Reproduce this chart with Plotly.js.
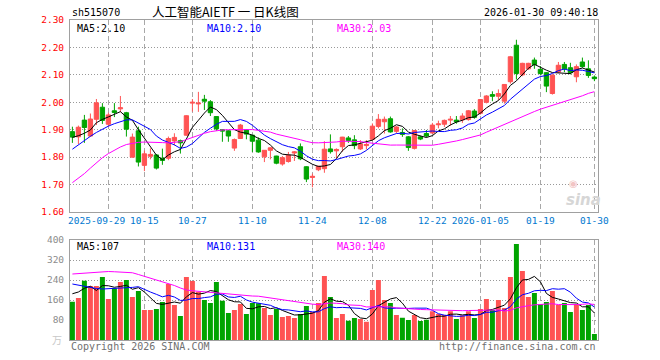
<!DOCTYPE html>
<html>
<head>
<meta charset="utf-8">
<script src="https://cdn.plot.ly/plotly-3.0.1.min.js"></script>
<style>html,body{margin:0;padding:0;background:#fff}#chart{width:660px;height:360px}</style>
</head>
<body>
<div id="chart"></div>
<script>
// ---- data ----
const dates = [
'2025-09-19','2025-09-22','2025-09-23','2025-09-24','2025-09-25','2025-09-26','2025-09-29','2025-09-30',
'2025-10-09','2025-10-10','2025-10-13','2025-10-14','2025-10-15','2025-10-16','2025-10-17','2025-10-20','2025-10-21','2025-10-22','2025-10-23','2025-10-24','2025-10-27','2025-10-28','2025-10-29','2025-10-30','2025-10-31',
'2025-11-03','2025-11-04','2025-11-05','2025-11-06','2025-11-07','2025-11-10','2025-11-11','2025-11-12','2025-11-13','2025-11-14','2025-11-17','2025-11-18','2025-11-19','2025-11-20','2025-11-21','2025-11-24','2025-11-25','2025-11-26','2025-11-27','2025-11-28',
'2025-12-01','2025-12-02','2025-12-03','2025-12-04','2025-12-05','2025-12-08','2025-12-09','2025-12-10','2025-12-11','2025-12-12','2025-12-15','2025-12-16','2025-12-17','2025-12-18','2025-12-19','2025-12-22','2025-12-23','2025-12-24','2025-12-25','2025-12-26','2025-12-29','2025-12-30','2025-12-31',
'2026-01-05','2026-01-06','2026-01-07','2026-01-08','2026-01-09','2026-01-12','2026-01-13','2026-01-14','2026-01-15','2026-01-16','2026-01-19','2026-01-20','2026-01-21','2026-01-22','2026-01-23','2026-01-26','2026-01-27','2026-01-28','2026-01-29','2026-01-30'];

const openP = [1.893,1.874,1.935,1.877,1.938,1.982,1.920,1.969,1.976,1.962,
1.800,1.896,1.770,1.803,1.808,1.796,1.796,1.859,1.860,1.880,
1.997,1.994,2.011,2.002,1.948,1.900,1.896,1.833,1.868,1.899,
1.880,1.862,1.801,1.825,1.804,1.775,1.784,1.815,1.838,1.765,
1.726,1.754,1.758,1.830,1.823,1.838,1.870,1.863,1.830,1.842,
1.865,1.912,1.929,1.940,1.894,1.890,1.874,1.832,1.874,1.886,
1.888,1.918,1.920,1.935,1.935,1.936,1.937,1.968,1.960,2.000,
2.028,2.022,2.004,2.075,2.208,2.100,2.122,2.154,2.120,2.108,
2.032,2.110,2.138,2.126,2.093,2.147,2.122,2.092];

const highP = [1.911,1.915,1.954,1.959,2.012,1.997,1.962,1.997,2.023,1.965,
1.886,1.911,1.824,1.832,1.811,1.831,1.875,1.887,1.864,1.953,
2.012,2.038,2.027,2.008,1.950,1.902,1.899,1.868,1.921,1.902,
1.880,1.872,1.826,1.836,1.805,1.804,1.819,1.822,1.850,1.767,
1.740,1.769,1.858,1.883,1.832,1.874,1.877,1.880,1.862,1.862,
1.923,1.957,1.948,1.948,1.913,1.905,1.877,1.899,1.878,1.899,
1.925,1.933,1.937,1.950,1.950,1.960,1.972,1.975,2.012,2.026,
2.040,2.047,2.066,2.169,2.228,2.144,2.144,2.163,2.132,2.110,
2.102,2.147,2.147,2.144,2.138,2.163,2.153,2.098];

const lowP = [1.852,1.848,1.852,1.874,1.917,1.921,1.911,1.946,1.964,1.875,
1.798,1.766,1.749,1.792,1.755,1.772,1.789,1.843,1.813,1.878,
1.966,1.965,1.972,1.950,1.896,1.856,1.856,1.823,1.866,1.865,
1.819,1.816,1.782,1.792,1.774,1.769,1.780,1.786,1.789,1.709,
1.690,1.749,1.743,1.813,1.796,1.820,1.852,1.829,1.826,1.828,
1.862,1.905,1.886,1.889,1.887,1.874,1.823,1.828,1.862,1.872,
1.884,1.905,1.910,1.915,1.922,1.925,1.933,1.940,1.955,1.996,
2.004,2.007,1.995,2.068,2.083,2.095,2.118,2.122,2.098,2.037,
2.028,2.108,2.110,2.102,2.073,2.126,2.089,2.077];

const closeP = [1.873,1.909,1.908,1.939,1.998,1.934,1.954,1.963,1.980,1.902,
1.873,1.782,1.812,1.810,1.760,1.788,1.868,1.872,1.852,1.951,
2.000,1.997,2.004,1.962,1.903,1.895,1.877,1.864,1.917,1.884,
1.858,1.819,1.825,1.834,1.778,1.798,1.807,1.819,1.794,1.720,
1.730,1.767,1.829,1.820,1.828,1.873,1.861,1.842,1.848,1.846,
1.913,1.938,1.938,1.892,1.910,1.883,1.835,1.897,1.866,1.877,
1.917,1.921,1.934,1.938,1.929,1.950,1.969,1.945,2.010,2.023,
2.022,2.032,2.065,2.166,2.105,2.142,2.142,2.137,2.105,2.059,
2.099,2.135,2.122,2.108,2.130,2.130,2.098,2.086];

const volume = [153,168,237,216,216,252,164,207,232,240,
172,196,120,120,124,152,224,140,96,252,
236,193,160,148,232,157,108,120,144,104,
148,147,128,100,124,92,96,88,104,136,
112,148,256,172,88,104,77,88,84,73,
200,240,160,148,100,89,80,100,76,81,
115,104,100,115,84,99,115,88,124,164,
120,160,128,252,384,276,172,188,144,152,
196,140,148,112,144,120,140,24];

// moving-average values at the left edge (their earlier data lies off the chart)
const ma5Head  = [1.872,1.878,1.887,1.899];
const ma10Head = [1.829,1.845,1.862,1.876,1.890,1.902,1.913,1.922,1.930];
const ma30Head = [1.707,1.722,1.740,1.760,1.780,1.798,1.813,1.826,1.837,1.846,
1.851,1.854,1.855,1.855,1.854,1.853,1.852,1.853,1.856,1.864,
1.872,1.880,1.887,1.893,1.897,1.899,1.900,1.900,1.900];
const vma5Head  = [185,192,207,215];
const vma10Head = [224,219,214,210,206,204,205,206,207];
const vma30Head = [264,266,268,271,273,275,274,273,272,271,
269,262,255,248,241,234,226,218,208,200,
197,195,193,191,189,187,184,181,178];

const tickDates  = ['2025-09-29','2025-10-15','2025-10-27','2025-11-10','2025-11-24','2025-12-08','2025-12-22','2026-01-05','2026-01-19','2026-01-30'];
const tickLabels = ['','10-15','10-27','11-10','11-24','12-08','12-22','2026-01-05','01-19','01-30'];
const firstDateLabel = '2025-09-29';
const volGridDates = ['2025-10-15','2025-10-27','2025-11-24','2025-12-08','2025-12-22','2026-01-05','2026-01-19','2026-01-30'];
const priceTicks = [1.6,1.7,1.8,1.9,2.0,2.1,2.2,2.3];
const volTicks = [80,160,240,320,400];
const priceMaLabels = ['MA5:2.10','MA10:2.10','MA30:2.03'];
const volMaLabels = ['MA5:107','MA10:131','MA30:140'];

// ---- helpers ----
function movingAvg(values, n, head) {
  return values.map((v, i) => {
    if (i < head.length) return head[i];
    let s = 0;
    for (let k = i - n + 1; k <= i; k++) s += values[k];
    return s / n;
  });
}
const RED = '#ff5353', GREEN = '#00a400';
const MONO = 'DejaVu Sans Mono';
const barColors = closeP.map((c, i) => c >= openP[i] ? RED : GREEN);

const traces = [
  {type:'candlestick', x:dates, open:openP, high:highP, low:lowP, close:closeP,
   xaxis:'x', yaxis:'y',
   increasing:{line:{color:RED, width:1}, fillcolor:RED},
   decreasing:{line:{color:GREEN, width:1}, fillcolor:GREEN},
   whiskerwidth:0, hoverinfo:'skip'},
  {type:'scatter', mode:'lines', x:dates, y:movingAvg(closeP,5,ma5Head), xaxis:'x', yaxis:'y', line:{color:'#000000', width:1}, hoverinfo:'skip'},
  {type:'scatter', mode:'lines', x:dates, y:movingAvg(closeP,10,ma10Head), xaxis:'x', yaxis:'y', line:{color:'#0000ff', width:1}, hoverinfo:'skip'},
  {type:'scatter', mode:'lines', x:dates, y:movingAvg(closeP,30,ma30Head), xaxis:'x', yaxis:'y', line:{color:'#ff00ff', width:1}, hoverinfo:'skip'},
  {type:'bar', x:dates, y:volume, xaxis:'x2', yaxis:'y2', width:0.83, marker:{color:barColors, line:{width:0}}, hoverinfo:'skip'},
  {type:'scatter', mode:'lines', x:dates, y:movingAvg(volume,5,vma5Head), xaxis:'x2', yaxis:'y2', line:{color:'#000000', width:1}, hoverinfo:'skip'},
  {type:'scatter', mode:'lines', x:dates, y:movingAvg(volume,10,vma10Head), xaxis:'x2', yaxis:'y2', line:{color:'#0000ff', width:1}, hoverinfo:'skip'},
  {type:'scatter', mode:'lines', x:dates, y:movingAvg(volume,30,vma30Head), xaxis:'x2', yaxis:'y2', line:{color:'#ff00ff', width:1}, hoverinfo:'skip'}
];

const L = 70, R = 62, T = 20, B = 20, W = 660, H = 360;
const pw = W - L - R, ph = H - T - B;
const px = x => (x - L) / pw;
const py = y => (H - B - y) / ph;
const ann = (text, x, y, xanchor, font) => ({text, x:px(x), y:py(y), xref:'paper', yref:'paper', xanchor, yanchor:'middle', showarrow:false, font});

const annotations = [
  ann('sh515070', 70, 12.5, 'left', {family:MONO, size:10, color:'#000'}),
  ann('人工智能AIETF 一 日K线图', 150, 11.5, 'left', {family:'Noto Sans CJK SC', size:12.5, color:'#000'}),
  ann('2026-01-30 09:40:18', 600, 12.5, 'right', {family:MONO, size:10, color:'#000'}),
  ann(priceMaLabels[0], 75, 28, 'left', {family:MONO, size:10, color:'#000000'}),
  ann(priceMaLabels[1], 205, 28, 'left', {family:MONO, size:10, color:'#0000ff'}),
  ann(priceMaLabels[2], 335, 28, 'left', {family:MONO, size:10, color:'#ff00ff'}),
  ann(volMaLabels[0], 75, 246, 'left', {family:MONO, size:10, color:'#000000'}),
  ann(volMaLabels[1], 205, 246, 'left', {family:MONO, size:10, color:'#0000ff'}),
  ann(volMaLabels[2], 335, 246, 'left', {family:MONO, size:10, color:'#ff00ff'}),
  ann(firstDateLabel, 127, 220.5, 'right', {family:MONO, size:9.5, color:'#0078d0'}),
  ann('万', 64, 339, 'right', {family:'Noto Sans CJK SC', size:10, color:'#c8c8c8'}),
  ann('Copyright 2026 SINA.COM', 69, 346.5, 'left', {family:MONO, size:10, color:'#707070'}),
  ann('http://finance.sina.com.cn', 598, 346.5, 'right', {family:MONO, size:10, color:'#707070'}),
  ann('◉', 573, 183, 'center', {family:'DejaVu Sans', size:10, color:'#f2c4c4'}),
  ann('sina', 583, 200, 'center', {family:'DejaVu Sans', size:15, color:'#d6d6d6', weight:'bold', style:'italic'})
];

const gridDash = '5px,3px', gridDot = '1px,2px';
const layout = {
  width:W, height:H, margin:{l:L, r:R, t:T, b:B, pad:0},
  paper_bgcolor:'#ffffff', plot_bgcolor:'#ffffff', showlegend:false,
  boxgap:0.28, boxgroupgap:0,
  xaxis:{type:'category', anchor:'y', domain:[0,1], range:[-0.4, 87.6], rangeslider:{visible:false},
    tickmode:'array', tickvals:tickDates, ticktext:tickLabels, tickangle:0, ticks:'',
    tickfont:{family:MONO, size:9.5, color:'#0078d0'},
    showgrid:true, gridcolor:'#a8a8a8', griddash:gridDash, gridwidth:1,
    showline:true, linecolor:'#a0a0a0', linewidth:1, mirror:true, zeroline:false, fixedrange:true},
  yaxis:{anchor:'x', domain:[0.4,1], range:[1.6,2.3], tickmode:'array', tickvals:priceTicks, tickformat:'.2f', ticks:'',
    ticklabelstandoff:3, tickfont:{family:MONO, size:9.5, color:'#ff0000'},
    showgrid:true, gridcolor:'#999999', griddash:gridDot, gridwidth:1,
    showline:true, linecolor:'#a0a0a0', linewidth:1, mirror:true, zeroline:false, fixedrange:true},
  xaxis2:{type:'category', anchor:'y2', domain:[0,1], range:[-0.4, 87.6],
    tickmode:'array', tickvals:volGridDates, showticklabels:false, ticks:'',
    showgrid:true, gridcolor:'#a8a8a8', griddash:gridDash, gridwidth:1,
    showline:true, linecolor:'#a0a0a0', linewidth:1, mirror:true, zeroline:false, fixedrange:true},
  yaxis2:{anchor:'x2', domain:[0,0.3125], range:[0,400], tickmode:'array', tickvals:volTicks, ticks:'',
    ticklabelstandoff:3, tickfont:{family:MONO, size:9.5, color:'#8c8c8c'},
    showgrid:true, gridcolor:'#999999', griddash:gridDot, gridwidth:1,
    showline:true, linecolor:'#a0a0a0', linewidth:1, mirror:true, zeroline:false, fixedrange:true},
  annotations
};

Plotly.newPlot('chart', traces, layout, {staticPlot:true, displayModeBar:false});
</script>
</body>
</html>
